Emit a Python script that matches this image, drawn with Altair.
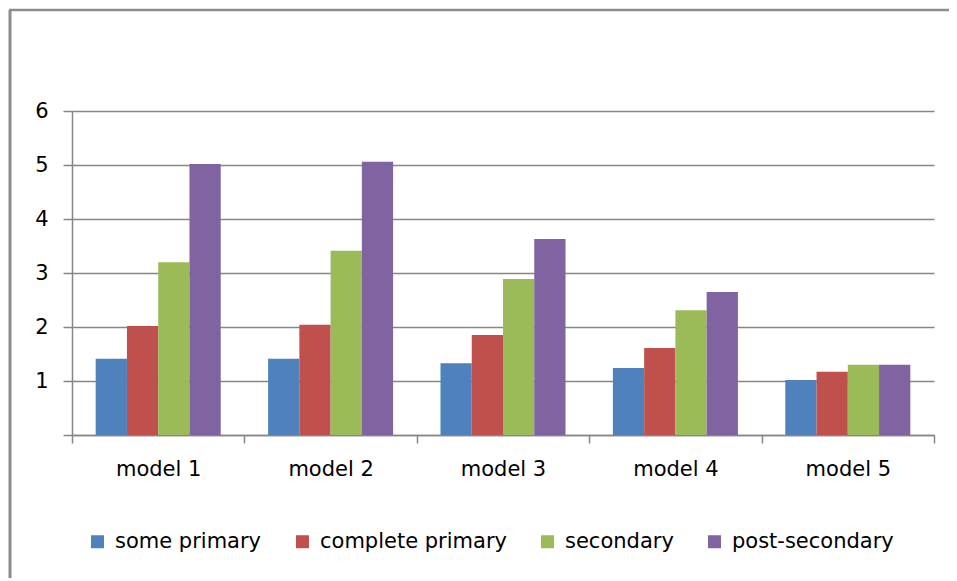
import altair as alt
import pandas as pd

models = ["model 1", "model 2", "model 3", "model 4", "model 5"]
levels = ["some primary", "complete primary", "secondary", "post-secondary"]
some_primary = [1.41, 1.41, 1.33, 1.24, 1.02]
complete_primary = [2.02, 2.04, 1.85, 1.61, 1.17]
secondary = [3.20, 3.41, 2.89, 2.31, 1.30]
post_secondary = [5.02, 5.06, 3.63, 2.65, 1.30]
colors = ["#4F81BD", "#C0504D", "#9BBB59", "#8064A2"]
y_ticks = [0, 1, 2, 3, 4, 5, 6]

series = [some_primary, complete_primary, secondary, post_secondary]
rows = []
for lvl, vals in zip(levels, series):
    for m, v in zip(models, vals):
        rows.append({"model": m, "level": lvl, "value": v})
df = pd.DataFrame(rows)

FONT = "DejaVu Sans"
FS = 21
GRID = "#868686"

bars = alt.Chart(df).mark_bar().encode(
    x=alt.X("model:N", sort=models,
            scale=alt.Scale(paddingInner=0, paddingOuter=0),
            axis=alt.Axis(title=None, labelAngle=0, tickBand="extent",
                          domainColor=GRID, domainWidth=1.5, tickColor=GRID,
                          tickWidth=1.5, tickSize=8, labelFontSize=FS,
                          labelColor="#000000", labelFont=FONT, labelPadding=15,
                          grid=False)),
    xOffset=alt.XOffset("level:N", sort=levels,
                        scale=alt.Scale(paddingInner=0, paddingOuter=0.758)),
    y=alt.Y("value:Q", scale=alt.Scale(domain=[0, 6], nice=False),
            axis=alt.Axis(title=None, values=y_ticks,
                          labelExpr="datum.value == 0 ? '' : datum.label",
                          grid=True, gridColor=GRID, gridWidth=1.5,
                          domainColor=GRID, domainWidth=1.5, tickColor=GRID,
                          tickWidth=1.5, tickSize=9, labelFontSize=FS,
                          labelColor="#000000", labelFont=FONT, labelPadding=15)),
    color=alt.Color("level:N", sort=levels,
                    scale=alt.Scale(domain=levels, range=colors),
                    legend=alt.Legend(title=None, orient="none", direction="horizontal",
                                      legendX=15, legendY=420,
                                      symbolType="square", symbolSize=169,
                                      symbolStrokeWidth=0, labelFontSize=FS,
                                      labelFont=FONT, labelColor="#000000",
                                      labelLimit=400,
                                      labelOffset=7, columnPadding=30)),
)

frame_df = pd.DataFrame({"k": [0]})
top_line = alt.Chart(frame_df).mark_rule(color="#8c8c8c", strokeWidth=2.5).encode(
    x=alt.value(-63), x2=alt.value(877), y=alt.value(-101))
left_line = alt.Chart(frame_df).mark_rule(color="#8c8c8c", strokeWidth=3).encode(
    x=alt.value(-62), y=alt.value(-101), y2=alt.value(470))

chart = alt.layer(bars, top_line, left_line).properties(
    width=862, height=324,
    autosize=alt.AutoSizeParams(type="none"),
    padding={"left": 64, "top": 103, "right": 15, "bottom": 143},
).configure_view(stroke=None)

chart.save("out.html", embed_options={"renderer": "svg", "actions": False})
